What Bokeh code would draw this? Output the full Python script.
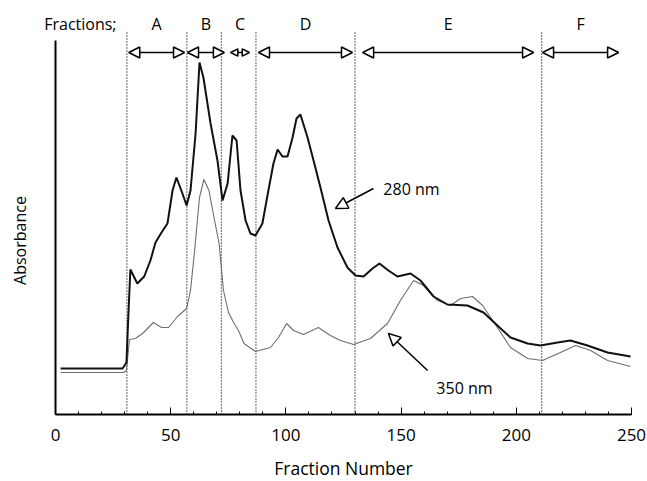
from bokeh.plotting import figure
from bokeh.models import Range1d, FixedTicker, Label, Arrow, NormalHead
from bokeh.embed import file_html
from bokeh.resources import INLINE

# ---- data ----
x280 = [2.2, 29.1, 30.8, 31.6, 32.5, 35.5, 38.5, 41.2, 43.4, 46.0, 48.6, 50.8, 52.5, 55.1, 56.9,
        58.6, 60.8, 62.5, 64.2, 67.3, 70.3, 72.5, 74.7, 76.8, 78.6, 80.3, 82.5, 84.6, 86.8, 89.8,
        92.4, 94.6, 96.4, 98.5, 100.7, 102.9, 104.6, 106.3, 109.4, 112.0, 115.0, 118.5, 122.4, 126.7,
        130.2, 133.7, 137.6, 140.6, 144.5, 148.4, 154.1, 158.4, 164.1, 170.1, 178.8, 185.8, 191.8,
        197.5, 204.9, 210.5, 217.9, 223.5, 230.9, 239.6, 249.6]
y280 = [0.46, 0.46, 0.52, 0.98, 1.45, 1.31, 1.38, 1.54, 1.72, 1.82, 1.91, 2.24, 2.37, 2.21, 2.09,
        2.24, 2.81, 3.52, 3.37, 2.91, 2.54, 2.14, 2.31, 2.79, 2.74, 2.24, 1.94, 1.81, 1.79, 1.91,
        2.24, 2.51, 2.65, 2.58, 2.58, 2.77, 2.96, 3.00, 2.77, 2.54, 2.27, 1.94, 1.67, 1.47,
        1.39, 1.38, 1.46, 1.51, 1.44, 1.38, 1.41, 1.34, 1.18, 1.10, 1.09, 1.02, 0.89,
        0.77, 0.71, 0.69, 0.72, 0.74, 0.69, 0.62, 0.58]

x350 = [2.2, 29.5, 30.8, 32.1, 34.7, 37.8, 42.5, 46.0, 49.0, 53.0, 56.9, 58.6, 60.3, 62.5, 64.4,
        66.6, 68.8, 71.0, 72.9, 75.1, 77.3, 79.4, 81.8, 86.8, 93.3, 96.8, 100.3, 103.3, 107.6, 114.1,
        119.3, 123.7, 129.4, 136.7, 144.1, 149.7, 155.4, 159.7, 165.8, 171.4, 175.8, 181.0, 185.4,
        191.8, 197.5, 204.9, 211.4, 219.2, 225.7, 232.3, 239.6, 249.6]
y350 = [0.42, 0.42, 0.44, 0.75, 0.76, 0.81, 0.92, 0.87, 0.87, 0.98, 1.06, 1.24, 1.62, 2.17, 2.35,
        2.24, 1.97, 1.71, 1.24, 1.02, 0.92, 0.84, 0.71, 0.63, 0.67, 0.77, 0.91, 0.84, 0.80, 0.87,
        0.79, 0.74, 0.70, 0.76, 0.91, 1.14, 1.34, 1.29, 1.14, 1.09, 1.16, 1.18, 1.09,
        0.87, 0.67, 0.56, 0.54, 0.62, 0.69, 0.64, 0.54, 0.48]

boundaries = [31, 57, 72, 87, 130, 211]
frac_names = ["A", "B", "C", "D", "E", "F"]
frac_start = [31.8, 57.3, 76.0, 88.1, 133.3, 211.4]
frac_end = [56.0, 73.3, 84.2, 128.9, 207.5, 244.4]
x_ticks = [0, 50, 100, 150, 200, 250]
x_minor = list(range(0, 251, 10))

FONT = "Open Sans"
PX = 2.304  # pixels per fraction unit

p = figure(width=647, height=481, output_backend="svg", toolbar_location=None,
           x_range=Range1d(-55 / PX, 592 / PX), y_range=Range1d(-0.67, 4.14),
           y_axis_location=None,
           min_border_left=0, min_border_right=0, min_border_top=0, min_border_bottom=0)
p.grid.visible = False
p.outline_line_color = None
p.background_fill_color = "white"
p.border_fill_color = "white"

xa = p.xaxis[0]
xa.fixed_location = 0
xa.bounds = (0, 250)
xa.ticker = FixedTicker(ticks=x_ticks, minor_ticks=x_minor)
xa.axis_line_width = 2
xa.axis_line_color = "black"
xa.major_tick_in = 7
xa.major_tick_out = 0
xa.minor_tick_in = 3
xa.minor_tick_out = 0
xa.major_tick_line_color = "black"
xa.minor_tick_line_color = "black"
xa.major_label_text_font = FONT
xa.major_label_text_font_size = "17px"
xa.major_label_text_color = "black"
xa.major_label_standoff = 14

# x axis title, centred on the drawn axis (0..250)
p.add_layout(Label(x=125, y=-0.535, text="Fraction Number", text_font=FONT,
                   text_font_size="17.5px", text_align="center", text_baseline="middle",
                   text_color="black"))

# y axis line (no ticks)
p.segment(x0=[0], y0=[0], x1=[0], y1=[3.74], line_color="black", line_width=2)

# fraction boundaries
p.segment(x0=boundaries, y0=[0] * len(boundaries), x1=boundaries, y1=[3.82] * len(boundaries),
          line_color="black", line_width=1.2, line_dash="1 2")

# curves
p.line(x350, y350, line_color="#6e6e6e", line_width=1.1)
p.line(x280, y280, line_color="#111111", line_width=2)

# fraction arrows
for n, s, e in zip(frac_names, frac_start, frac_end):
    span_px = (e - s) * PX
    hs = min(11, span_px / 2.6)
    p.add_layout(Arrow(x_start=s, y_start=3.62, x_end=e, y_end=3.62,
                       line_color="black", line_width=1.5,
                       start=NormalHead(size=hs, fill_color="white", line_color="black", line_width=1.5),
                       end=NormalHead(size=hs, fill_color="white", line_color="black", line_width=1.5)))
    p.add_layout(Label(x=(s + e) / 2, y=3.91, text=n, text_font=FONT, text_font_size="16px",
                       text_align="center", text_baseline="middle", text_color="black"))

p.add_layout(Label(x=10.8, y=3.91, text="Fractions;", text_font=FONT, text_font_size="16px",
                   text_align="center", text_baseline="middle", text_color="black"))

p.add_layout(Label(x=-15.2, y=1.74, text="Absorbance", angle=1.5708, text_font=FONT,
                   text_font_size="16px", text_align="center", text_baseline="middle",
                   text_color="black"))

# pointer arrows
p.add_layout(Arrow(x_start=138.0, y_start=2.26, x_end=121.5, y_end=2.06, line_color="black",
                   line_width=1.5,
                   end=NormalHead(size=12, fill_color="white", line_color="black", line_width=1.5)))
p.add_layout(Label(x=154.5, y=2.26, text="280 nm", text_font=FONT, text_font_size="16px",
                   text_align="center", text_baseline="middle", text_color="black"))

p.add_layout(Arrow(x_start=161.5, y_start=0.44, x_end=144.5, y_end=0.81, line_color="black",
                   line_width=1.5,
                   end=NormalHead(size=12, fill_color="white", line_color="black", line_width=1.5)))
p.add_layout(Label(x=177.5, y=0.27, text="350 nm", text_font=FONT, text_font_size="16px",
                   text_align="center", text_baseline="middle", text_color="black"))

open("out.html", "w").write(file_html(p, INLINE))
